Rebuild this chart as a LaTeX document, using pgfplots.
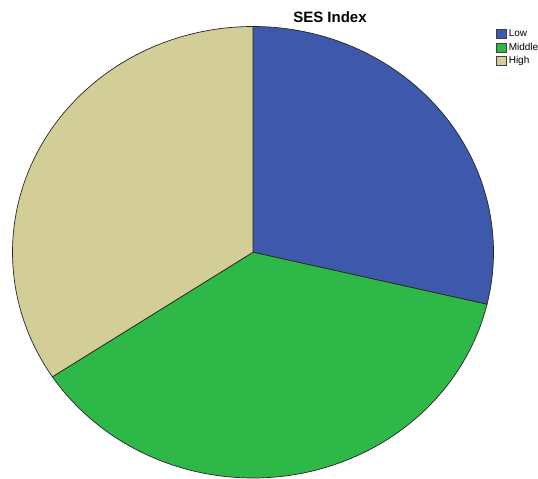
\documentclass[border=0pt]{standalone}
\usepackage{pgfplots}
\usepackage{pgfplotstable}
\pgfplotsset{compat=1.18}
\usepackage{fontspec}
\setmainfont{Liberation Sans}

\definecolor{sesLow}{HTML}{3E58AC}
\definecolor{sesMid}{HTML}{2EB848}
\definecolor{sesHigh}{HTML}{D3CE97}

% percentage of cases in each SES group
\pgfplotstableread{
group share
Low 28.7
Middle 37.0
High 34.3
}\sesdata

\pgfplotstablegetelem{0}{share}\of\sesdata
\pgfmathsetmacro\aLow{\pgfplotsretval*3.6}
\pgfplotstablegetelem{1}{share}\of\sesdata
\pgfmathsetmacro\aMid{\pgfplotsretval*3.6}
% slices run clockwise from 12 o'clock
\pgfmathsetmacro\bA{90}
\pgfmathsetmacro\bB{90-\aLow}
\pgfmathsetmacro\bC{90-\aLow-\aMid}
\pgfmathsetmacro\bD{-270}

\begin{document}
\begin{tikzpicture}
\useasboundingbox (0,0) rectangle (538bp,479bp);
\begin{axis}[
    at={(12.5bp,1bp)}, anchor=south west,
    scale only axis,
    width=481bp, height=451.5bp,
    xmin=-1, xmax=1, ymin=-1, ymax=1,
    axis lines=none,
    clip=false,
    samples=120,
    title={\bfseries SES Index},
    every axis title shift=0pt,
    title style={at={(axis description cs:0.6601,1.0084)}, anchor=base,
        font=\fontsize{15bp}{18bp}\selectfont, inner sep=0pt},
    legend image code/.code={
        \draw[#1, draw=black!75, line width=0.6bp] (0bp,-4.5bp) rectangle (10bp,4.5bp);
    },
    legend style={
        at={(axis description cs:1.0052,0.9945)}, anchor=north west,
        draw=none, fill=none, inner sep=0pt,
        row sep=4bp, column sep=2bp,
        nodes={inner sep=0pt, text height=7bp, text depth=2bp,
            font=\fontsize{10bp}{12bp}\selectfont, anchor=west},
    },
    every axis plot/.append style={draw=black!85, line width=0.7bp},
]
\addplot[fill=sesLow, domain=\bB:\bA] ({cos(x)},{sin(x)}) -- (axis cs:0,0) -- cycle;
\addlegendentry{Low}
\addplot[fill=sesMid, domain=\bC:\bB] ({cos(x)},{sin(x)}) -- (axis cs:0,0) -- cycle;
\addlegendentry{Middle}
\addplot[fill=sesHigh, domain=\bD:\bC] ({cos(x)},{sin(x)}) -- (axis cs:0,0) -- cycle;
\addlegendentry{High}
\end{axis}
\end{tikzpicture}
\end{document}
